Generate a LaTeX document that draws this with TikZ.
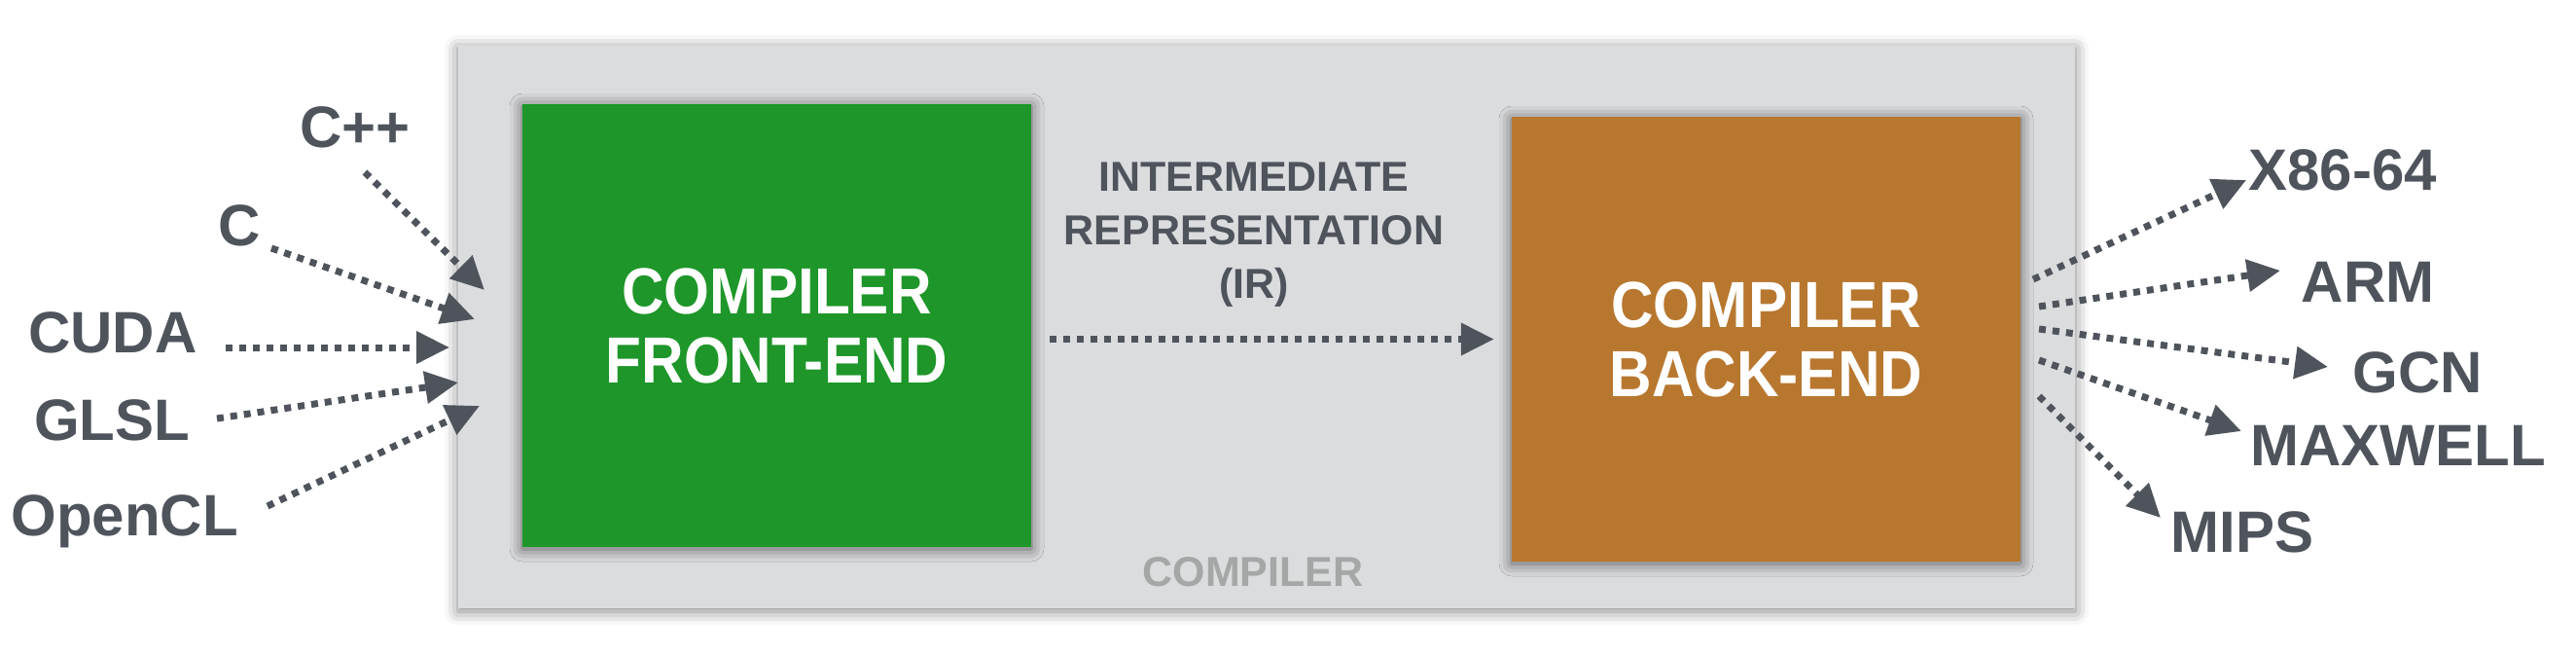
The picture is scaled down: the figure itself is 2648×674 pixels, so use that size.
\documentclass[tikz,border=0pt]{standalone}
\usepackage{fontspec}
\setmainfont{Liberation Sans}
\newfontfamily\boxfont{Liberation Sans}[FakeStretch=0.9]
\usetikzlibrary{arrows.meta,shadows.blur}
\definecolor{ink}{HTML}{4F545C}
\definecolor{fegreen}{HTML}{1E9629}
\definecolor{beorange}{HTML}{B8772F}
\definecolor{boxgray}{HTML}{DBDCDE}
\definecolor{lblgray}{HTML}{A3A8A7}
\tikzset{
  lbl/.style={font=\fontsize{60}{60}\selectfont\bfseries, text=ink, inner sep=0pt, anchor=base},
  flow/.style={draw=ink, line width=7pt, dash pattern=on 7pt off 7pt,
    -{Triangle[length=34pt,width=32pt]}},
  stage/.style={inner sep=0pt, minimum width=523pt, align=center, text=white,
    font=\boxfont\fontsize{67}{71}\selectfont\bfseries,
    blur shadow={shadow xshift=0pt, shadow yshift=-2pt, shadow blur radius=13pt, shadow opacity=60}},
  irtext/.style={font=\fontsize{43}{55}\selectfont\bfseries, text=ink, inner sep=0pt, align=center},
}
\begin{document}
\begin{tikzpicture}[x=1pt,y=-1pt]
\useasboundingbox (0,0) rectangle (2648,674);
% compiler container
\node[fill=boxgray, minimum width=1662pt, minimum height=578pt, inner sep=0pt,
  blur shadow={shadow xshift=0pt, shadow yshift=-3pt, shadow blur radius=14pt, shadow opacity=50}]
  (compiler) at (1302,336) {};
\node[font=\fontsize{43}{43}\selectfont\bfseries, text=lblgray, inner sep=0pt, anchor=base]
  (cmplbl) at (1288,602) {COMPILER};
% stages
\node[stage, fill=fegreen, minimum height=455pt] (front) at (798.5,334.5) {COMPILER\\FRONT-END};
\node[stage, fill=beorange, minimum height=457pt] (back) at (1815.5,348.5) {COMPILER\\BACK-END};
% IR
\node[irtext, anchor=north] (ir) at (1289,167) {INTERMEDIATE\\REPRESENTATION\\(IR)};
\draw[flow, shorten <=19pt, shorten >=18pt] (front.east |- back.west) -- (back.west);
% source languages
\node[lbl] (cpp) at (365,152) {C++};
\node[lbl] (c) at (246,252) {C};
\node[lbl] (cuda) at (116,362) {CUDA};
\node[lbl] (glsl) at (115,452) {GLSL};
\node[lbl] (opencl) at (128,550) {OpenCL};
\coordinate (cppS) at (375,177);    \coordinate (cppE) at (498,298);
\coordinate (cS) at (279,255);      \coordinate (cE) at (488,328);
\coordinate (cudaS) at (232,357);   \coordinate (cudaE) at (462,357);
\coordinate (glslS) at (223,430);   \coordinate (glslE) at (471,393);
\coordinate (openclS) at (275,520); \coordinate (openclE) at (493,417);
\draw[flow] (cppS) -- (cppE);
\draw[flow] (cS) -- (cE);
\draw[flow] (cudaS) -- (cudaE);
\draw[flow] (glslS) -- (glslE);
\draw[flow] (openclS) -- (openclE);
% targets
\node[lbl] (x86) at (2408,195) {X86-64};
\node[lbl] (arm) at (2434,310) {ARM};
\node[lbl] (gcn) at (2485,403) {GCN};
\node[lbl] (maxwell) at (2465,478) {MAXWELL};
\node[lbl] (mips) at (2305,567) {MIPS};
\coordinate (x86S) at (2090,287);     \coordinate (x86E) at (2309,185);
\coordinate (armS) at (2096,315);     \coordinate (armE) at (2344,278);
\coordinate (gcnS) at (2096,338);     \coordinate (gcnE) at (2393,377);
\coordinate (maxwellS) at (2096,370); \coordinate (maxwellE) at (2304,443);
\coordinate (mipsS) at (2096,407);    \coordinate (mipsE) at (2221,532);
\draw[flow] (x86S) -- (x86E);
\draw[flow] (armS) -- (armE);
\draw[flow] (gcnS) -- (gcnE);
\draw[flow] (maxwellS) -- (maxwellE);
\draw[flow] (mipsS) -- (mipsE);
\end{tikzpicture}
\end{document}
